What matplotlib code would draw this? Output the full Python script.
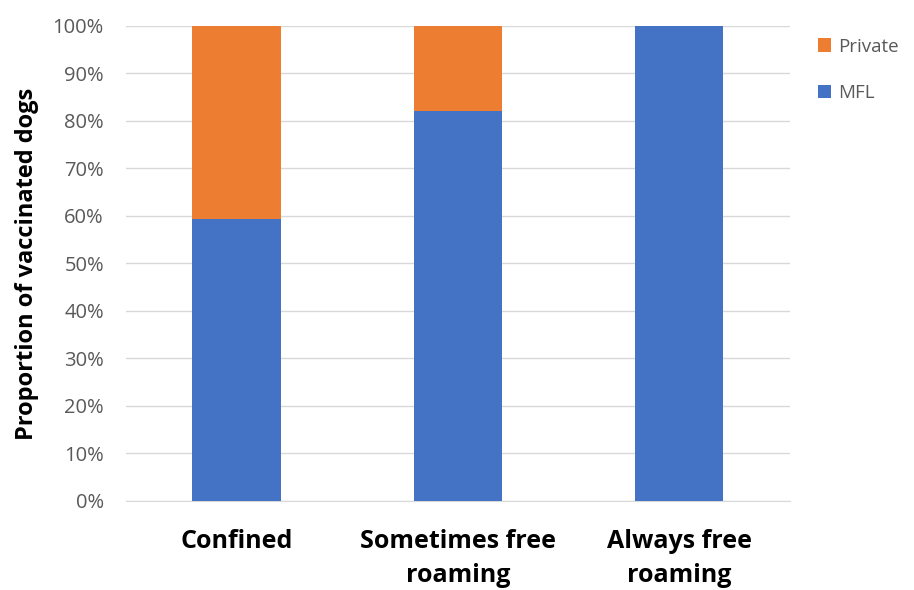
import matplotlib
matplotlib.use('Agg')
import matplotlib.pyplot as plt
from matplotlib.ticker import PercentFormatter
import numpy as np

plt.rcParams['font.family'] = ['Open Sans', 'DejaVu Sans']

categories = ['Confined', 'Sometimes free\nroaming', 'Always free\nroaming']
mfl = [59.3, 82.0, 100.0]
private = [40.7, 18.0, 0.0]

fig = plt.figure(figsize=(9.14, 5.9), dpi=100)
ax = fig.add_axes([0.138, 0.151, 0.726, 0.805])

x = np.arange(len(categories))
ax.bar(x, mfl, width=0.4, color='#4472C4', label='MFL', zorder=3)
ax.bar(x, private, width=0.4, bottom=mfl, color='#ED7D31', label='Private', zorder=3)

ax.set_xlim(-0.5, 2.5)
ax.set_ylim(0, 100)
ax.set_yticks(np.arange(0, 101, 10))
ax.yaxis.set_major_formatter(PercentFormatter(decimals=0))
ax.grid(axis='y', color='#D9D9D9', linewidth=1, zorder=0)
for s in ['top', 'right', 'left']:
    ax.spines[s].set_visible(False)
ax.spines['bottom'].set_color('#D9D9D9')
ax.tick_params(axis='y', length=0, labelsize=14.5, labelcolor='#595959', pad=16)
ax.tick_params(axis='x', length=0, pad=20)
ax.set_xticks(x)
ax.set_xticklabels(categories, fontsize=18, fontweight='bold', linespacing=1.5)
ax.set_ylabel('Proportion of vaccinated dogs', fontsize=17, fontweight='bold', labelpad=10)

# legend sits outside the axes, Private on top
h, l = ax.get_legend_handles_labels()
fig.legend(h[::-1], l[::-1], loc='upper left', bbox_to_anchor=(0.876, 0.965),
           frameon=False, fontsize=13.5, handlelength=0.7, handleheight=0.7,
           handletextpad=0.4, labelspacing=1.5, labelcolor='#595959')

fig.savefig('out.png', dpi=100)
